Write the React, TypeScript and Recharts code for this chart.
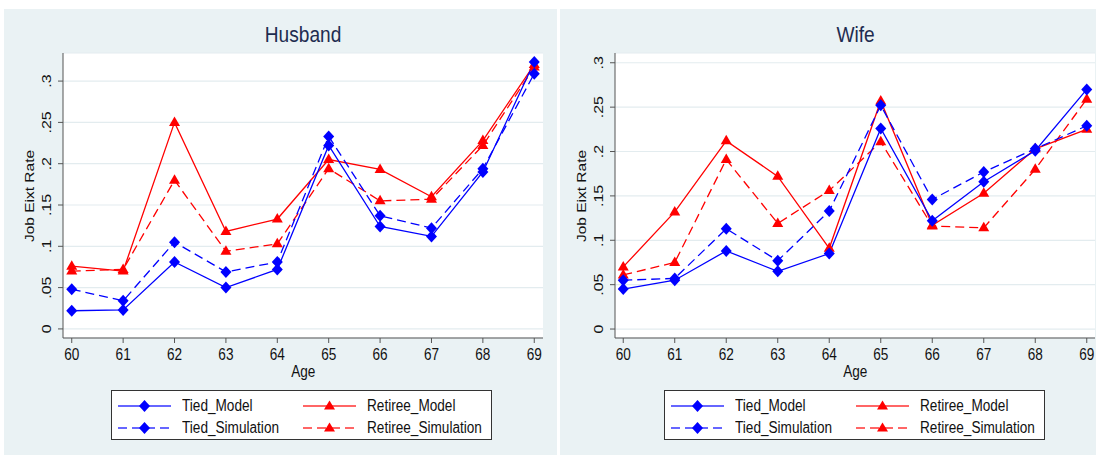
import React from "react";
import { LineChart, Line, XAxis, YAxis, CartesianGrid } from "recharts";

// ages on the x axis
const ages = [60, 61, 62, 63, 64, 65, 66, 67, 68, 69];
const yTicks = [0, 0.05, 0.1, 0.15, 0.2, 0.25, 0.3];

// husband exit rates
const husbandTiedModel = [0.022, 0.023, 0.081, 0.05, 0.072, 0.222, 0.124, 0.112, 0.19, 0.323];
const husbandTiedSim = [0.048, 0.034, 0.105, 0.069, 0.081, 0.233, 0.137, 0.122, 0.194, 0.309];
const husbandRetireeModel = [0.076, 0.07, 0.25, 0.118, 0.133, 0.205, 0.193, 0.16, 0.228, 0.32];
const husbandRetireeSim = [0.07, 0.072, 0.18, 0.094, 0.103, 0.194, 0.155, 0.157, 0.222, 0.317];

// wife exit rates
const wifeTiedModel = [0.045, 0.055, 0.088, 0.065, 0.085, 0.226, 0.122, 0.166, 0.201, 0.27];
const wifeTiedSim = [0.055, 0.057, 0.113, 0.077, 0.133, 0.252, 0.146, 0.177, 0.203, 0.229];
const wifeRetireeModel = [0.07, 0.132, 0.212, 0.172, 0.091, 0.257, 0.117, 0.153, 0.203, 0.225];
const wifeRetireeSim = [0.061, 0.075, 0.191, 0.119, 0.156, 0.211, 0.116, 0.114, 0.18, 0.259];

const BLUE = "#0000ff";
const RED = "#ff0000";
const BG = "#eaf2f4";
const FONT = "'Liberation Sans', Arial, sans-serif";
const SQUEEZE = 0.85;
const DASH = "9 5";

const fmt = (v: number) => (v === 0 ? "0" : String(+v.toFixed(2)).replace(/^0/, ""));

const diamond = (color: string) => (p: any) => {
  const { cx, cy, index, dataKey } = p;
  if (cx == null || cy == null) return <g key={`${dataKey}-${index}`} />;
  return (
    <polygon
      key={`${dataKey}-${index}`}
      points={`${cx},${cy - 6} ${cx + 5.5},${cy} ${cx},${cy + 6} ${cx - 5.5},${cy}`}
      fill={color}
    />
  );
};

const triangle = (color: string) => (p: any) => {
  const { cx, cy, index, dataKey } = p;
  if (cx == null || cy == null) return <g key={`${dataKey}-${index}`} />;
  return (
    <polygon
      key={`${dataKey}-${index}`}
      points={`${cx},${cy - 6} ${cx + 5.5},${cy + 3.5} ${cx - 5.5},${cy + 3.5}`}
      fill={color}
    />
  );
};

const XTick = (p: any) => (
  <text
    transform={`translate(${p.x},${p.y}) scale(${SQUEEZE},1)`}
    textAnchor="middle"
    dominantBaseline="central"
    fontSize={16}
    fontFamily={FONT}
    fill="#111"
  >
    {p.payload.value}
  </text>
);

const YTick = (p: any) => (
  <text
    transform={`translate(${p.x},${p.y}) scale(${SQUEEZE},1) rotate(-90)`}
    textAnchor="middle"
    dominantBaseline="central"
    fontSize={16}
    fontFamily={FONT}
    fill="#111"
  >
    {fmt(p.payload.value)}
  </text>
);

const squeezed: React.CSSProperties = {
  display: "inline-block",
  transform: `scaleX(${SQUEEZE})`,
  whiteSpace: "nowrap",
};

function LegendKey({ color, dashed, marker }: { color: string; dashed: boolean; marker: "d" | "t" }) {
  return (
    <svg width={54} height={14} style={{ position: "absolute", left: 0, top: 0 }}>
      <line x1={0} x2={53} y1={7} y2={7} stroke={color} strokeWidth={1.4} strokeDasharray={dashed ? DASH : undefined} strokeOpacity={0.8} />
      {marker === "d" ? (
        <polygon points="26.5,1 32,7 26.5,13 21,7" fill={color} />
      ) : (
        <polygon points="26.5,1.5 32,10.5 21,10.5" fill={color} />
      )}
    </svg>
  );
}

function LegendItem({ left, top, label, color, dashed, marker }: any) {
  return (
    <div style={{ position: "absolute", left, top, height: 14 }}>
      <LegendKey color={color} dashed={dashed} marker={marker} />
      <div style={{ position: "absolute", left: 64, top: -3, fontSize: 16, lineHeight: "20px", transformOrigin: "0 50%", ...squeezed }}>
        {label}
      </div>
    </div>
  );
}

type PanelProps = {
  left: number;
  width: number;
  title: string;
  tiedModel: number[];
  tiedSim: number[];
  retireeModel: number[];
  retireeSim: number[];
  xDomain: [number, number];
  yDomain: [number, number];
  axisWidth: number;
  marginRight: number;
  legendLeft: number;
};

function Panel(props: PanelProps) {
  const { left, width, title, xDomain, yDomain, axisWidth, marginRight, legendLeft } = props;
  const rows = ages.map((age, i) => ({
    age,
    tiedModel: props.tiedModel[i],
    tiedSim: props.tiedSim[i],
    retireeModel: props.retireeModel[i],
    retireeSim: props.retireeSim[i],
  }));
  const plotLeft = axisWidth;
  const plotRight = width - marginRight;
  const plotMid = (plotLeft + plotRight) / 2;

  return (
    <div style={{ position: "absolute", left, top: 9, width, height: 446, background: BG, fontFamily: FONT }}>
      <div
        style={{
          position: "absolute",
          left: plotMid - 100,
          width: 200,
          top: 13,
          textAlign: "center",
          fontSize: 22.5,
          lineHeight: "26px",
          color: "#1e2c50",
        }}
      >
        <span style={squeezed}>{title}</span>
      </div>

      <div
        style={{
          position: "absolute",
          left: axisWidth - 33 - 100,
          top: (44 + 329) / 2 - 10,
          width: 200,
          height: 20,
          textAlign: "center",
          fontSize: 15.5,
          lineHeight: "20px",
          color: "#111",
          transform: `scaleX(${SQUEEZE}) rotate(-90deg)`,
        }}
      >
        Job Eixt Rate
      </div>

      <LineChart
        width={width}
        height={381}
        data={rows}
        margin={{ top: 44, right: marginRight, bottom: 12, left: 0 }}
        style={{ position: "absolute", left: 0, top: 0 }}
      >
        <CartesianGrid vertical={false} fill="#ffffff" stroke="#e3ecef" strokeWidth={1.2} />
        <XAxis
          dataKey="age"
          type="number"
          domain={xDomain}
          ticks={ages}
          allowDataOverflow
          height={40}
          tickSize={5}
          tickMargin={12}
          tick={XTick}
          stroke="#555"
          interval={0}
        />
        <YAxis
          type="number"
          domain={yDomain}
          ticks={yTicks}
          allowDataOverflow
          width={axisWidth}
          tickSize={5}
          tickMargin={11.5}
          tick={YTick}
          stroke="#555"
          interval={0}
        />
        <Line dataKey="retireeModel" stroke={RED} strokeWidth={1.3} dot={triangle(RED)} isAnimationActive={false} />
        <Line dataKey="retireeSim" stroke={RED} strokeWidth={1.3} strokeDasharray={DASH} dot={triangle(RED)} isAnimationActive={false} />
        <Line dataKey="tiedModel" stroke={BLUE} strokeWidth={1.3} dot={diamond(BLUE)} isAnimationActive={false} />
        <Line dataKey="tiedSim" stroke={BLUE} strokeWidth={1.3} strokeDasharray={DASH} dot={diamond(BLUE)} isAnimationActive={false} />
      </LineChart>

      <div
        style={{
          position: "absolute",
          left: plotMid - 100,
          width: 200,
          top: 353,
          textAlign: "center",
          fontSize: 16,
          lineHeight: "20px",
          color: "#111",
        }}
      >
        <span style={squeezed}>Age</span>
      </div>

      <div
        style={{
          position: "absolute",
          left: legendLeft,
          top: 381,
          width: 381,
          height: 50,
          background: "#fff",
          border: "1px solid #333",
          boxSizing: "border-box",
          color: "#111",
        }}
      >
        <LegendItem left={6} top={8} label="Tied_Model" color={BLUE} dashed={false} marker="d" />
        <LegendItem left={191} top={8} label="Retiree_Model" color={RED} dashed={false} marker="t" />
        <LegendItem left={6} top={30} label="Tied_Simulation" color={BLUE} dashed marker="d" />
        <LegendItem left={191} top={30} label="Retiree_Simulation" color={RED} dashed marker="t" />
      </div>
    </div>
  );
}

export default function App() {
  return (
    <div style={{ position: "absolute", left: 0, top: 0, width: 1096, height: 456, background: "#fff", overflow: "hidden" }}>
      <Panel
        left={4}
        width={553}
        title="Husband"
        tiedModel={husbandTiedModel}
        tiedSim={husbandTiedSim}
        retireeModel={husbandRetireeModel}
        retireeSim={husbandRetireeSim}
        xDomain={[59.83, 69.17]}
        yDomain={[-0.011, 0.334]}
        axisWidth={59}
        marginRight={14}
        legendLeft={107}
      />
      <Panel
        left={560}
        width={536}
        title="Wife"
        tiedModel={wifeTiedModel}
        tiedSim={wifeTiedSim}
        retireeModel={wifeRetireeModel}
        retireeSim={wifeRetireeSim}
        xDomain={[59.84, 69.16]}
        yDomain={[-0.0101, 0.311]}
        axisWidth={55}
        marginRight={1}
        legendLeft={104}
      />
    </div>
  );
}
